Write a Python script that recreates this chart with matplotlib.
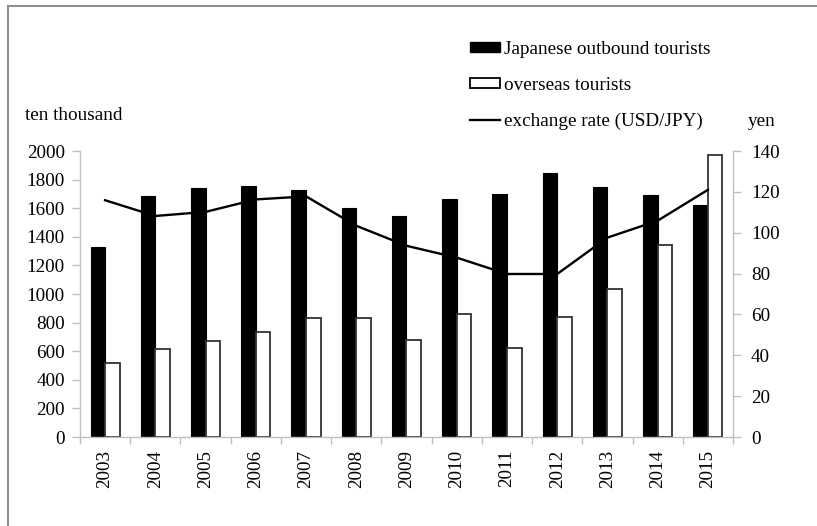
import matplotlib
matplotlib.use("Agg")
import matplotlib.pyplot as plt
import numpy as np
from matplotlib.lines import Line2D
from matplotlib.patches import Patch

plt.rcParams['font.family'] = ['Liberation Serif', 'DejaVu Serif']

years = ['2003', '2004', '2005', '2006', '2007', '2008', '2009',
         '2010', '2011', '2012', '2013', '2014', '2015']
# ten thousand people
outbound = [1330, 1683, 1740, 1753, 1729, 1599, 1545, 1664, 1699, 1849, 1747, 1690, 1621]
overseas = [521, 614, 673, 733, 835, 835, 679, 861, 622, 836, 1036, 1341, 1974]
# yen per dollar
usd_jpy = [115.9, 108.2, 110.2, 116.3, 117.8, 103.4, 93.6, 87.8, 79.8, 79.8, 97.6, 105.9, 121.0]

grey = '#bfbfbf'
fs = 13.8

fig = plt.figure(figsize=(8.17, 5.26), dpi=100)
ax = fig.add_axes([0.0979, 0.1692, 0.7993, 0.5437])

x = np.arange(len(years))
w = 0.29
ax.bar(x - w / 2, outbound, w, color='black', edgecolor='black', linewidth=0.8, zorder=2)
ax.bar(x + w / 2, overseas, w, color='white', edgecolor='#333333', linewidth=1.3, zorder=2)

ax.set_xlim(-0.5, len(years) - 0.5)
ax.set_ylim(0, 2000)
ax.set_yticks(np.arange(0, 2001, 200))
ax.set_xticks(x)
ax.set_xticklabels(years, rotation=90, fontsize=fs)
ax.set_xticks(np.arange(-0.5, len(years)), minor=True)
ax.tick_params(axis='x', which='major', length=0, pad=9)
ax.tick_params(axis='x', which='minor', length=5, color=grey, width=1)
ax.tick_params(axis='y', length=6, color=grey, width=1, labelsize=fs, pad=5)
for s in ['top', 'right']:
    ax.spines[s].set_visible(False)
for s in ['left', 'bottom']:
    ax.spines[s].set_color(grey)
    ax.spines[s].set_linewidth(1)

ax2 = ax.twinx()
ax2.plot(x, usd_jpy, color='black', linewidth=1.7, zorder=3)
ax2.set_ylim(0, 140)
ax2.set_yticks(np.arange(0, 141, 20))
ax2.tick_params(axis='y', length=6, color=grey, width=1, labelsize=fs, pad=7)
for s in ['top', 'left', 'bottom']:
    ax2.spines[s].set_visible(False)
ax2.spines['right'].set_color(grey)
ax2.spines['right'].set_linewidth(1)

fig.text(25 / 817, 1 - 115 / 526, 'ten thousand', fontsize=fs, va='center', ha='left')
fig.text(748 / 817, 1 - 121 / 526, 'yen', fontsize=fs, va='center', ha='left')

handles = [Patch(facecolor='black', edgecolor='black'),
           Patch(facecolor='white', edgecolor='black', linewidth=1.3),
           Line2D([0], [0], color='black', linewidth=1.7)]
labels = ['Japanese outbound tourists', 'overseas tourists', 'exchange rate (USD/JPY)']
fig.legend(handles, labels, loc='upper left', bbox_to_anchor=(470 / 817, 1 - 41 / 526),
           frameon=False, fontsize=fs, handlelength=1.55, handleheight=0.4,
           handletextpad=0.2, labelspacing=0.98, borderpad=0, borderaxespad=0)

# outer frame edges
fig.add_artist(Line2D([7.5 / 817, 7.5 / 817], [0, 1 - 5.5 / 526], color='#8c8c8c', linewidth=1.5))
fig.add_artist(Line2D([7.5 / 817, 1], [1 - 5.5 / 526, 1 - 5.5 / 526], color='#8c8c8c', linewidth=1.5))

fig.savefig('out.png', dpi=100)
